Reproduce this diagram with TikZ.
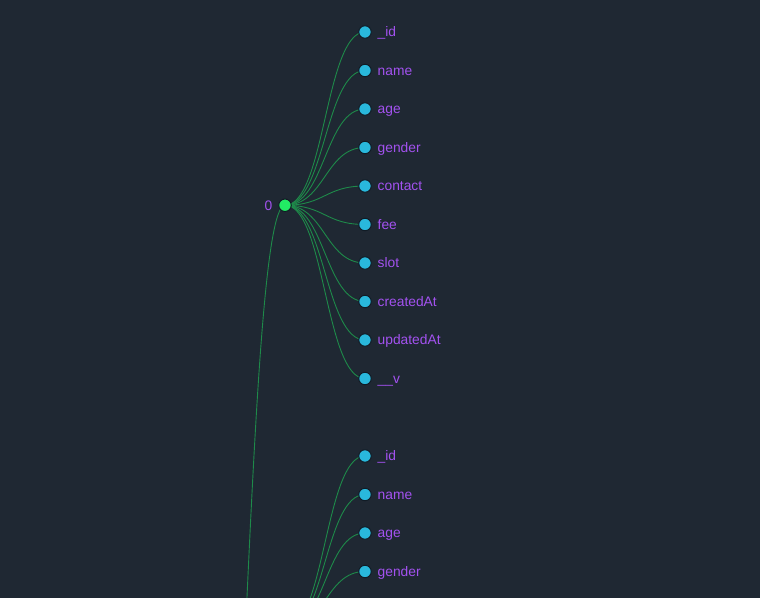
\documentclass[tikz,border=0pt]{standalone}
\usepackage{fontspec}
\setmainfont{Liberation Sans}
\usepackage{tikz}
\usetikzlibrary{calc}
\pgfdeclarelayer{back}
\pgfdeclarelayer{links}
\pgfsetlayers{back,links,main}
\definecolor{bgcol}{HTML}{1F2833}
\definecolor{linkcol}{HTML}{1E8A4A}
\definecolor{leafcol}{HTML}{29B8DC}
\definecolor{innercol}{HTML}{22EB64}
\definecolor{rimcol}{HTML}{111B25}
\definecolor{textcol}{HTML}{A352F0}
\tikzset{
  link/.style={draw=linkcol, line width=0.9pt},
  leaf/.style={circle, fill=leafcol, draw=rimcol, line width=1pt, minimum size=12.5pt, inner sep=0pt},
  inner/.style={circle, fill=innercol, draw=rimcol, line width=1pt, minimum size=12.5pt, inner sep=0pt},
  lbl/.style={text=textcol, anchor=base west, inner sep=0pt, font=\fontsize{13.8}{16}\selectfont},
  lbll/.style={lbl, anchor=base east}
}
\begin{document}
\begin{tikzpicture}[x=1pt, y=-1pt]
  \useasboundingbox (0,0) rectangle (760,597);
  \begin{pgfonlayer}{back}
    \fill[bgcol] (-10,-10) rectangle (770,607);
  \end{pgfonlayer}
  % tree nodes
  \coordinate (root) at (205,1075);
  \node[inner] (n0) at (285,205.25) {};
  \coordinate (n1) at (285,629.25);
  \node[leaf] (id0) at (365,32) {};
  \node[leaf] (name0) at (365,70.5) {};
  \node[leaf] (age0) at (365,109) {};
  \node[leaf] (gender0) at (365,147.5) {};
  \node[leaf] (contact0) at (365,186) {};
  \node[leaf] (fee0) at (365,224.5) {};
  \node[leaf] (slot0) at (365,263) {};
  \node[leaf] (created0) at (365,301.5) {};
  \node[leaf] (updated0) at (365,340) {};
  \node[leaf] (v0) at (365,378.5) {};
  \node[leaf] (id1) at (365,456) {};
  \node[leaf] (name1) at (365,494.5) {};
  \node[leaf] (age1) at (365,533) {};
  \node[leaf] (gender1) at (365,571.5) {};
  % links, under the circles
  \begin{pgfonlayer}{links}
    \clip (0,0) rectangle (760,597);
    \draw[link] (root) .. controls +(40,0) and +(-40,0) .. (n0.center);
    \foreach \c in {id0,name0,age0,gender0,contact0,fee0,slot0,created0,updated0,v0}
      \draw[link] (n0.center) .. controls +(40,0) and +(-40,0) .. (\c.center);
    \foreach \c in {id1,name1,age1,gender1}
      \draw[link] (n1) .. controls +(40,0) and +(-40,0) .. (\c.center);
  \end{pgfonlayer}
  % texts
  \node[lbll] (n0t) at ([xshift=-12.5pt,yshift=-4.8pt]n0.center) {0};
  \node[lbl] (id0t) at ([xshift=12.5pt,yshift=-4.8pt]id0.center) {\_id};
  \node[lbl] (name0t) at ([xshift=12.5pt,yshift=-4.8pt]name0.center) {name};
  \node[lbl] (age0t) at ([xshift=12.5pt,yshift=-4.8pt]age0.center) {age};
  \node[lbl] (gender0t) at ([xshift=12.5pt,yshift=-4.8pt]gender0.center) {gender};
  \node[lbl] (contact0t) at ([xshift=12.5pt,yshift=-4.8pt]contact0.center) {contact};
  \node[lbl] (fee0t) at ([xshift=12.5pt,yshift=-4.8pt]fee0.center) {fee};
  \node[lbl] (slot0t) at ([xshift=12.5pt,yshift=-4.8pt]slot0.center) {slot};
  \node[lbl] (created0t) at ([xshift=12.5pt,yshift=-4.8pt]created0.center) {createdAt};
  \node[lbl] (updated0t) at ([xshift=12.5pt,yshift=-4.8pt]updated0.center) {updatedAt};
  \node[lbl] (v0t) at ([xshift=12.5pt,yshift=-4.8pt]v0.center) {\_\_v};
  \node[lbl] (id1t) at ([xshift=12.5pt,yshift=-4.8pt]id1.center) {\_id};
  \node[lbl] (name1t) at ([xshift=12.5pt,yshift=-4.8pt]name1.center) {name};
  \node[lbl] (age1t) at ([xshift=12.5pt,yshift=-4.8pt]age1.center) {age};
  \node[lbl] (gender1t) at ([xshift=12.5pt,yshift=-4.8pt]gender1.center) {gender};
\end{tikzpicture}
\end{document}
